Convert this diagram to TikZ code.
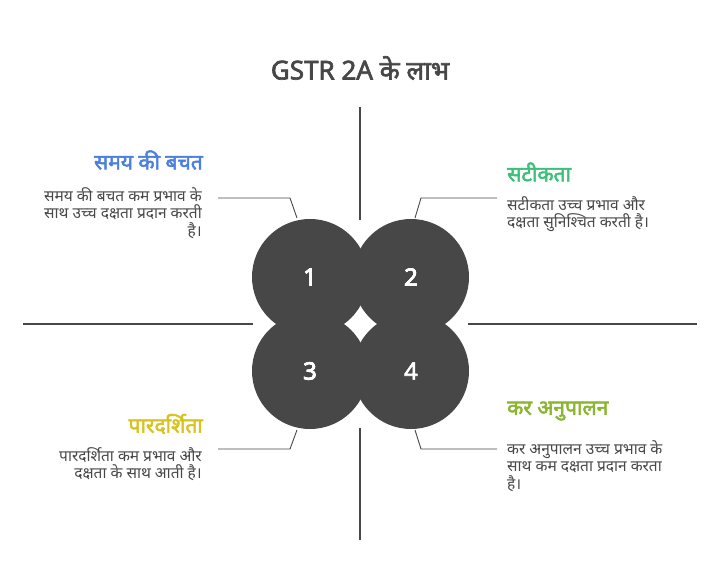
\documentclass[tikz,border=0pt]{standalone}
\usepackage{fontspec}
\setmainfont{Noto Sans}[Script=Devanagari,BoldFont={Noto Sans},BoldFeatures={FakeBold=2.5}]
\definecolor{dk}{HTML}{474747}
\definecolor{cA}{HTML}{4A7FE0}
\definecolor{cB}{HTML}{3CBF7A}
\definecolor{cC}{HTML}{D6C320}
\definecolor{cD}{HTML}{8AB52E}
\begin{document}
\begin{tikzpicture}[x=1pt,y=-1pt,
 circ/.style={circle,fill=dk,minimum size=116pt,inner sep=0pt,text=white,font=\bfseries\fontsize{24}{28}\selectfont},
 ln/.style={draw=dk,line width=1.1pt},
 lead/.style={draw=dk,line width=0.9pt},
 head/.style={font=\bfseries\fontsize{21}{25}\selectfont,inner sep=0pt},
 body/.style={font=\fontsize{15.5}{17.5}\selectfont,text=dk,inner sep=0pt,align=left}]
\useasboundingbox (0,0) rectangle (721,588);
\node[font=\bfseries\fontsize{26}{30}\selectfont,text=dk] (t) at (360,68) {GSTR 2A के लाभ};
\coordinate (v1) at (360,107); \coordinate (v2) at (360,220);
\coordinate (v3) at (360,428); \coordinate (v4) at (360,540);
\coordinate (h1) at (23,324); \coordinate (h2) at (253,324);
\coordinate (h3) at (468,324); \coordinate (h4) at (697,324);
\draw[ln] (v1)--(v2); \draw[ln] (v3)--(v4);
\draw[ln] (h1)--(h2); \draw[ln] (h3)--(h4);
\node[circ] (c1) at (310,277) {1};
\node[circ] (c2) at (411,277) {2};
\node[circ] (c3) at (310,371) {3};
\node[circ] (c4) at (411,371) {4};
\node[circ,fill=none] at (310,277) {1};
\node[circ,fill=none] at (411,277) {2};
\node[circ,fill=none] at (310,371) {3};
\coordinate (a1) at (218,198); \coordinate (a2) at (290,198);
\coordinate (b1) at (497,198); \coordinate (b2) at (421,198);
\coordinate (d1) at (218,449); \coordinate (d2) at (290,449);
\coordinate (e1) at (497,449); \coordinate (e2) at (421,449);
\draw[lead] (a1)--(a2)--(297,218);
\draw[lead] (b1)--(b2)--(415,218);
\draw[lead] (d1)--(d2)--(297,430);
\draw[lead] (e1)--(e2)--(415,430);
\node[head,text=cA,anchor=east] (hA) at (203,160) {समय की बचत};
\node[body,anchor=north east,align=right] (tA) at (202,187) {समय की बचत कम प्रभाव के\\साथ उच्च दक्षता प्रदान करती\\है।};
\node[head,text=cB,anchor=west] (hB) at (507,172) {सटीकता};
\node[body,anchor=north west] (tB) at (507,196) {सटीकता उच्च प्रभाव और\\दक्षता सुनिश्चित करती है।};
\node[head,text=cC,anchor=east] (hC) at (203,424) {पारदर्शिता};
\node[body,anchor=north east,align=right] (tC) at (202,447) {पारदर्शिता कम प्रभाव और\\दक्षता के साथ आती है।};
\node[head,text=cD,anchor=west] (hD) at (507,411) {कर अनुपालन};
\node[body,anchor=north west] (tD) at (507,440) {कर अनुपालन उच्च प्रभाव के\\साथ कम दक्षता प्रदान करता\\है।};
\end{tikzpicture}
\end{document}
